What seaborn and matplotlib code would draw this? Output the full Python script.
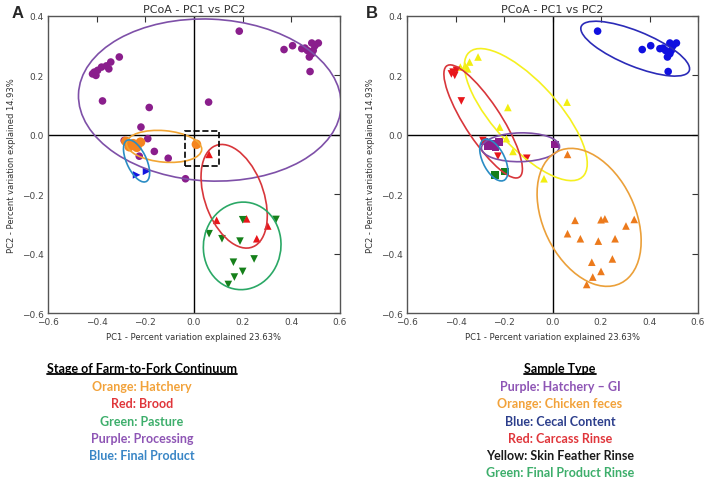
import numpy as np
import pandas as pd
import matplotlib
matplotlib.use("Agg")
import matplotlib.pyplot as plt
import seaborn as sns
from matplotlib.patches import Ellipse, Rectangle
from matplotlib.lines import Line2D
from matplotlib.font_manager import FontProperties, findfont

# PCoA coordinates, one group per sample set
hatchery_x = [-0.280, -0.266, -0.250, -0.235, -0.220, 0.010]
hatchery_y = [-0.022, -0.040, -0.030, -0.042, -0.025, -0.032]
brood_x = [0.062, 0.093, 0.216, 0.303, 0.258]
brood_y = [-0.066, -0.288, -0.283, -0.307, -0.350]
pasture_x = [0.337, 0.062, 0.115, 0.200, 0.189, 0.247, 0.162, 0.200, 0.166, 0.141]
pasture_y = [-0.285, -0.333, -0.350, -0.286, -0.358, -0.418, -0.429, -0.460, -0.479, -0.504]
cecal_x = [0.186, 0.370, 0.405, 0.443, 0.456, 0.484, 0.511, 0.497, 0.490, 0.484, 0.474, 0.477, 0.466]
cecal_y = [0.349, 0.287, 0.300, 0.290, 0.292, 0.309, 0.309, 0.300, 0.284, 0.273, 0.262, 0.213, 0.284]
carcass_x = [-0.417, -0.410, -0.403, -0.396, -0.376, -0.287, -0.225, -0.106]
carcass_y = [0.205, 0.211, 0.200, 0.217, 0.114, -0.019, -0.072, -0.079]
skin_x = [-0.380, -0.360, -0.350, -0.342, -0.307, -0.184, 0.060, -0.218, -0.190, -0.163, -0.035, -0.259]
skin_y = [0.228, 0.232, 0.222, 0.245, 0.262, 0.092, 0.110, 0.026, -0.013, -0.056, -0.148, -0.030]
final_x = [-0.236, -0.195, -0.252]
final_y = [-0.135, -0.123, -0.030]

group_stage = {"hatchery": "Hatchery", "brood": "Brood", "pasture": "Pasture",
               "cecal": "Processing", "carcass": "Processing", "skin": "Processing",
               "final": "Final Product"}
group_type = {"hatchery": "Hatchery - GI", "brood": "Chicken feces", "pasture": "Chicken feces",
              "cecal": "Cecal Content", "carcass": "Carcass Rinse", "skin": "Skin Feather Rinse",
              "final": "Final Product Rinse"}

# ellipses: (centre x, centre y, width, height, angle) in data units
stage_ellipses = {
    "Processing": (0.065, 0.117, 1.08, 0.545, -2),
    "Hatchery": (-0.123, -0.039, 0.31, 0.106, -4),
    "Final Product": (-0.236, -0.088, 0.16, 0.078, -58),
    "Brood": (0.165, -0.207, 0.375, 0.235, -62),
    "Pasture": (0.198, -0.374, 0.32, 0.294, 10),
}
type_ellipses = {
    "Cecal Content": (0.341, 0.29, 0.47, 0.12, -18),
    "Skin Feather Rinse": (-0.11, 0.068, 0.63, 0.24, -40),
    "Carcass Rinse": (-0.286, 0.045, 0.48, 0.14, -50.5),
    "Hatchery - GI": (-0.132, -0.042, 0.322, 0.097, 1),
    "Final Product Rinse": (-0.242, -0.085, 0.161, 0.086, -55),
    "Chicken feces": (0.151, -0.278, 0.52, 0.36, -51.5),
}
zoom_box = (-0.035, -0.105, 0.138, 0.117)

stage_colors = {"Hatchery": "#F5841F", "Brood": "#E8161B", "Pasture": "#15801A",
                "Processing": "#8A1E8C", "Final Product": "#1515E0"}
stage_ell_colors = {"Hatchery": "#F2A533", "Brood": "#D8363B", "Pasture": "#2BA866",
                    "Processing": "#7E50A8", "Final Product": "#2A8CC4"}
stage_markers = {"Hatchery": "o", "Brood": "^", "Pasture": "v",
                 "Processing": "o", "Final Product": ">"}
stage_sizes = {"Hatchery": 48, "Brood": 30, "Pasture": 30, "Processing": 30, "Final Product": 30}
type_colors = {"Hatchery - GI": "#8A1E8C", "Chicken feces": "#EC7A1C", "Cecal Content": "#1010E0",
               "Carcass Rinse": "#E8161B", "Skin Feather Rinse": "#F2EE10",
               "Final Product Rinse": "#15801A"}
type_ell_colors = {"Hatchery - GI": "#7E50A8", "Chicken feces": "#EBA03A", "Cecal Content": "#2B2BB8",
                   "Carcass Rinse": "#D8363B", "Skin Feather Rinse": "#F5F020",
                   "Final Product Rinse": "#2A8CC4"}
type_markers = {"Hatchery - GI": "s", "Chicken feces": "^", "Cecal Content": "o",
                "Carcass Rinse": "v", "Skin Feather Rinse": "^", "Final Product Rinse": "s"}
type_sizes = {k: 30 for k in type_colors}

stage_order = ["Processing", "Final Product", "Hatchery", "Brood", "Pasture"]
type_order = ["Cecal Content", "Chicken feces", "Final Product Rinse", "Skin Feather Rinse",
              "Hatchery - GI", "Carcass Rinse"]

left_legend = [("Orange: Hatchery", "#F2A23A"), ("Red: Brood", "#E0363B"),
               ("Green: Pasture", "#3DAE6B"), ("Purple: Processing", "#8E55B5"),
               ("Blue: Final Product", "#3A86C6")]
right_legend = [("Purple: Hatchery \u2013 GI", "#8E55B5"), ("Orange: Chicken feces", "#F2A23A"),
                ("Blue: Cecal Content", "#2C3E8C"), ("Red: Carcass Rinse", "#E0363B"),
                ("Yellow: Skin Feather Rinse", "#1A1A1A"), ("Green: Final Product Rinse", "#3DAE6B")]

groups = {"hatchery": (hatchery_x, hatchery_y), "brood": (brood_x, brood_y),
          "pasture": (pasture_x, pasture_y), "cecal": (cecal_x, cecal_y),
          "carcass": (carcass_x, carcass_y), "skin": (skin_x, skin_y),
          "final": (final_x, final_y)}
rows = []
for g, (xs, ys) in groups.items():
    for x, y in zip(xs, ys):
        rows.append({"pc1": x, "pc2": y, "stage": group_stage[g], "type": group_type[g]})
df = pd.DataFrame(rows)


def pick_font(names):
    for n in names:
        try:
            findfont(FontProperties(family=n), fallback_to_default=False)
            return n
        except ValueError:
            pass
    return "DejaVu Sans"


sns.set_style("white")
plt.rcParams["font.family"] = ["DejaVu Sans"]
text_font = pick_font(["Liberation Sans Narrow", "Lato", "Open Sans"])

fig = plt.figure(figsize=(7.09, 4.85), dpi=100)
ax_a = fig.add_axes([48 / 709, 1 - 314 / 485, 292 / 709, 297 / 485])
ax_b = fig.add_axes([407 / 709, 1 - 314 / 485, 291 / 709, 297 / 485])


def draw_panel(ax, col, order, colors, markers, sizes, ell, ell_colors):
    d = df.copy()
    d["rank"] = d[col].map({k: i for i, k in enumerate(order)})
    d = d.sort_values("rank", kind="stable")
    ax.axhline(0, color="black", lw=1, zorder=1)
    ax.axvline(0, color="black", lw=1, zorder=1)
    sns.scatterplot(data=d, x="pc1", y="pc2", hue=col, style=col, size=col,
                    palette=colors, markers=markers, sizes=sizes,
                    linewidth=0, legend=False, ax=ax, zorder=3)
    for name, (cx, cy, w, h, ang) in ell.items():
        ax.add_patch(Ellipse((cx, cy), w, h, angle=ang, fill=False,
                             edgecolor=ell_colors[name], lw=1.2, zorder=4))
    ax.set_xlim(-0.6, 0.6)
    ax.set_ylim(-0.6, 0.4)
    xt = np.arange(-0.6, 0.61, 0.2)
    yt = np.arange(-0.6, 0.41, 0.2)
    ax.set_xticks(xt)
    ax.set_yticks(yt)
    ax.set_xticklabels([f"{v:.1f}".replace("-", "\u2212") for v in xt])
    ax.set_yticklabels([f"{v:.1f}".replace("-", "\u2212") for v in yt])
    ax.tick_params(direction="in", length=4, width=0.8, top=True, right=True,
                   labelsize=6.5, labelcolor="#444", color="#333", pad=3)
    for sp in ax.spines.values():
        sp.set_color("#555")
        sp.set_linewidth(1)
    ax.set_xlabel("PC1 - Percent variation explained 23.63%", fontsize=6, color="#333", labelpad=4)
    ax.set_ylabel("PC2 - Percent variation explained 14.93%", fontsize=6, color="#333", labelpad=4)
    ax.set_title("PCoA - PC1 vs PC2", fontsize=8, color="#333", pad=3)


draw_panel(ax_a, "stage", stage_order, stage_colors, stage_markers, stage_sizes,
           stage_ellipses, stage_ell_colors)
draw_panel(ax_b, "type", type_order, type_colors, type_markers, type_sizes,
           type_ellipses, type_ell_colors)
bx, by, bw, bh = zoom_box
ax_a.add_patch(Rectangle((bx, by), bw, bh, fill=False, ls="--", lw=1.2,
                         edgecolor="black", zorder=5))

fig.text(12 / 709, 1 - 13 / 485, "A", fontsize=12, fontweight="bold",
         family="Liberation Sans", va="center", ha="left")
fig.text(366 / 709, 1 - 13 / 485, "B", fontsize=12, fontweight="bold",
         family="Liberation Sans", va="center", ha="left")


def legend_block(cx, title, lines):
    t = fig.text(cx / 709, 1 - 369 / 485, title, fontsize=9, fontweight="bold",
                 family=text_font, ha="center", va="center", color="black")
    for i, (txt, c) in enumerate(lines):
        fig.text(cx / 709, 1 - (387 + i * 17.3) / 485, txt, fontsize=9, fontweight="bold",
                 family=text_font, ha="center", va="center", color=c)
    return t


t1 = legend_block(142, "Stage of Farm-to-Fork Continuum", left_legend)
t2 = legend_block(560, "Sample Type", right_legend)

fig.canvas.draw()
r = fig.canvas.get_renderer()
for t in (t1, t2):
    bb = t.get_window_extent(renderer=r)
    yy = (bb.y0 + 0.5) / fig.bbox.height
    fig.add_artist(Line2D([bb.x0 / fig.bbox.width, bb.x1 / fig.bbox.width], [yy, yy],
                          color="black", lw=1.3, transform=fig.transFigure))

fig.savefig("out.png", dpi=100)
